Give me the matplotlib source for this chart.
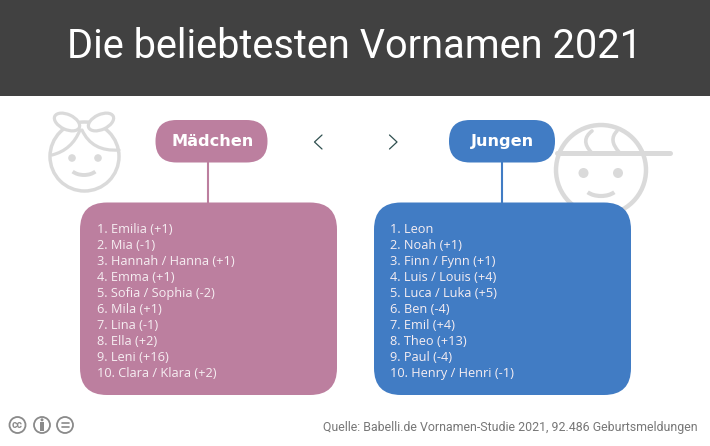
import matplotlib
matplotlib.use("Agg")
import matplotlib.pyplot as plt
from matplotlib.patches import FancyBboxPatch, Circle, Rectangle, Arc, Ellipse, PathPatch
from matplotlib.path import Path

title = "Die beliebtesten Vornamen 2021"
source = "Quelle: Babelli.de Vornamen-Studie 2021, 92.486 Geburtsmeldungen"
girls_label = "Mädchen"
boys_label = "Jungen"
girls = ["1. Emilia (+1)", "2. Mia (-1)", "3. Hannah / Hanna (+1)", "4. Emma (+1)",
         "5. Sofia / Sophia (-2)", "6. Mila (+1)", "7. Lina (-1)", "8. Ella (+2)",
         "9. Leni (+16)", "10. Clara / Klara (+2)"]
boys = ["1. Leon", "2. Noah (+1)", "3. Finn / Fynn (+1)", "4. Luis / Louis (+4)",
        "5. Luca / Luka (+5)", "6. Ben (-4)", "7. Emil (+4)", "8. Theo (+13)",
        "9. Paul (-4)", "10. Henry / Henri (-1)"]

PINK = "#bc7f9f"
BLUE = "#417cc4"
GREY = "#dadada"
DARK = "#414141"

fig = plt.figure(figsize=(7.10, 4.46), dpi=100, facecolor="white")
ax = fig.add_axes([0, 0, 1, 1])
ax.set_xlim(0, 710)
ax.set_ylim(446, 0)
ax.axis("off")
ax.set_aspect("equal")

ax.add_patch(Rectangle((0, 0), 710, 95.5, fc=DARK, ec="none"))
ax.text(354.5, 46.5, title, color="white", family="Roboto", fontsize=28.6,
        ha="center", va="center")


def rbox(x0, y0, x1, y1, r, color, z=3):
    ax.add_patch(FancyBboxPatch((x0 + r, y0 + r), x1 - x0 - 2 * r, y1 - y0 - 2 * r,
                                boxstyle=f"round,pad={r},rounding_size={r}",
                                fc=color, ec="none", zorder=z))


def line(xs, ys, color=GREY, lw=2.5, z=1):
    ax.plot(xs, ys, color=color, lw=lw, solid_capstyle="round", zorder=z)


def curve(p0, c, p1, lw=2.3):
    ax.add_patch(PathPatch(Path([p0, c, p1], [Path.MOVETO, Path.CURVE3, Path.CURVE3]),
                           fc="none", ec=GREY, lw=lw, capstyle="round", zorder=2))


# Girl icon
ax.add_patch(Circle((84.5, 156.5), 34.5, fc="none", ec=GREY, lw=2.5, zorder=1))
ax.add_patch(Circle((72, 158), 3.8, fc=GREY, ec="none"))
ax.add_patch(Circle((98, 158), 3.8, fc=GREY, ec="none"))
ax.add_patch(Arc((84, 165), 30, 20, theta1=30, theta2=150, ec=GREY, lw=2.8))
# bow
ax.add_patch(Ellipse((67, 122), 27, 15, angle=25, fc="white", ec=GREY, lw=2.3, zorder=2))
ax.add_patch(Ellipse((101, 122), 27, 15, angle=-25, fc="white", ec=GREY, lw=2.3, zorder=2))
# fringe
curve((80, 130), (72, 150), (52, 155))
curve((82, 130), (92, 152), (119, 150))

# Boy icon
ax.add_patch(Circle((601, 170), 45, fc="none", ec=GREY, lw=3.2, zorder=1))
line([557, 670], [153, 153], lw=3.6)
curve((592, 131), (580, 140), (591, 152), lw=2.6)
curve((617, 131), (608, 140), (619, 152), lw=2.6)
ax.add_patch(Circle((583.5, 173), 5, fc=GREY, ec="none"))
ax.add_patch(Circle((618, 173), 5, fc=GREY, ec="none"))
ax.add_patch(Arc((601, 186), 34, 20, theta1=25, theta2=155, ec=GREY, lw=3.0))

# Connectors
line([208, 208], [160, 205], color=PINK, lw=1.5, z=2)
line([501.5, 501.5], [160, 205], color=BLUE, lw=1.5, z=2)

# Pills and panels
rbox(155.5, 120, 267.5, 162.5, 21, PINK)
rbox(449, 120, 555, 162.5, 21, BLUE)
rbox(80, 202.5, 337, 395, 27, PINK)
rbox(374, 202.5, 631, 395, 27, BLUE)

ax.text(212.5, 141.5, girls_label, color="white", family="DejaVu Sans", weight="bold",
        fontsize=11.6, ha="center", va="center", zorder=5)
ax.text(502, 141.5, boys_label, color="white", family="DejaVu Sans", weight="bold",
        fontsize=11.6, ha="center", va="center", zorder=5)

# Carousel chevrons
line([322, 314.5, 322], [135, 142, 149], color="#2f4f4f", lw=0.9, z=2)
line([389.5, 397, 389.5], [135, 142, 149], color="#2f4f4f", lw=0.9, z=2)

for x, names in ((97, girls), (390.5, boys)):
    for i, name in enumerate(names):
        ax.text(x, 229.6 + i * 15.95, name, color="#f6eef2", family="Open Sans",
                fontsize=9.2, ha="left", va="center", zorder=5)

# CC licence badges
for cx in (17.5, 42, 65):
    ax.add_patch(Circle((cx, 425), 8, fc="white", ec="#8a8a8a", lw=1.3))
ax.text(17.5, 424.6, "cc", color="#8a8a8a", family="Roboto", weight="bold", fontsize=7.5,
        ha="center", va="center")
ax.add_patch(Circle((42, 419.8), 1.5, fc="#8a8a8a", ec="none"))
ax.add_patch(Rectangle((40, 422), 4, 9, fc="#8a8a8a", ec="none"))
line([61.5, 68.5], [423.2, 423.2], color="#8a8a8a", lw=1.2, z=3)
line([61.5, 68.5], [427, 427], color="#8a8a8a", lw=1.2, z=3)

ax.text(698, 428, source, color="#777777", family="Roboto", fontsize=8.9,
        ha="right", va="center")

fig.savefig("out.png", dpi=100, facecolor="white")
